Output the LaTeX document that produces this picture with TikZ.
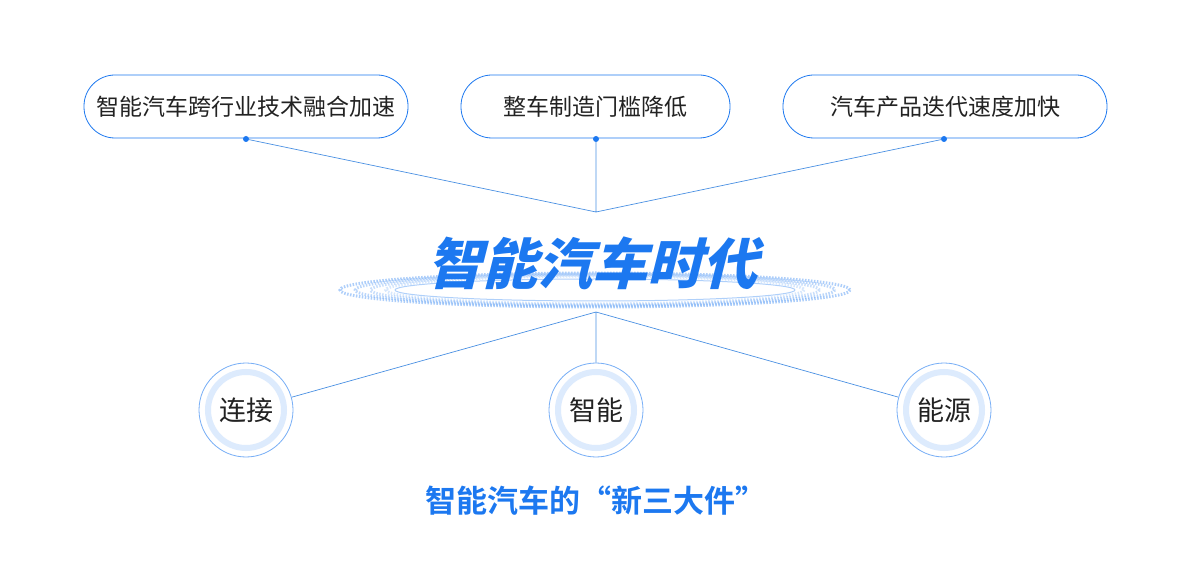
\documentclass[tikz,border=0pt]{standalone}
\usepackage{fontspec}
\newfontfamily\cjk{Noto Sans CJK SC}
\newfontfamily\cjkb{Noto Sans CJK SC Black}
\newfontfamily\cjkbold{Noto Sans CJK SC Bold}
\definecolor{bl}{HTML}{1C78F0}
\definecolor{ln}{HTML}{4A90E2}
\definecolor{tx}{HTML}{222222}
\begin{document}
\begin{tikzpicture}[x=1pt,y=-1pt,
  topbox/.style={draw=bl,line width=0.8pt,rounded corners=31pt,minimum height=63pt,font=\cjk\fontsize{23}{23}\selectfont,text=tx,fill=white},
  circ/.style={circle,draw=bl!60,line width=0.8pt,minimum size=94pt,fill=white},
  ctext/.style={font=\cjk\fontsize{27}{27}\selectfont,text=tx},
  conn/.style={draw=ln,line width=0.7pt},
  dot/.style={circle,fill=bl,inner sep=0pt,minimum size=6pt}]
\useasboundingbox (0,0) rectangle (1197,569);
\node[topbox,minimum width=324pt] (b1) at (246,106.5) {智能汽车跨行业技术融合加速};
\node[topbox,minimum width=269pt] (b2) at (595.5,106.5) {整车制造门槛降低};
\node[topbox,minimum width=324pt] (b3) at (945,106.5) {汽车产品迭代速度加快};
\node[dot] (d1) at (246,139) {};
\node[dot] (d2) at (596,139) {};
\node[dot] (d3) at (944,139) {};
\coordinate (m1) at (596,212);
\coordinate (m2) at (596,312);
\draw[conn] (d1)--(m1) (d2)--(m1) (d3)--(m1);
% ring
\foreach \r/\o in {1/0.6,0.94/0.5,0.88/0.4,0.82/0.3}
  \draw[bl!60,line width=3pt,dash pattern=on 1.5pt off 1.5pt,opacity=\o] (595,290) ellipse ({255*\r} and {17*\r});
\draw[bl!35,line width=1pt] (595,290) ellipse (200 and 11);
\node[circ] (c1) at (246,410) {};
\node[circ] (c2) at (596,410) {};
\node[circ] (c3) at (944,410) {};
\foreach \c in {c1,c2,c3} \draw[bl!15,line width=6pt] (\c) circle (38pt);
\node[ctext] (t1) at (246,410) {连接};
\node[ctext] (t2) at (596,410) {智能};
\node[ctext] (t3) at (944,410) {能源};
\draw[conn] (m2)--(c1) (m2)--(c2) (m2)--(c3);
\node[font=\cjkb\fontsize{55}{55}\selectfont,text=bl,xslant=0.25] (t) at (598,263) {智能汽车时代};
\node[font=\cjkbold\fontsize{31}{31}\selectfont,text=bl] (s) at (596,501) {智能汽车的“新三大件”};
\end{tikzpicture}
\end{document}
